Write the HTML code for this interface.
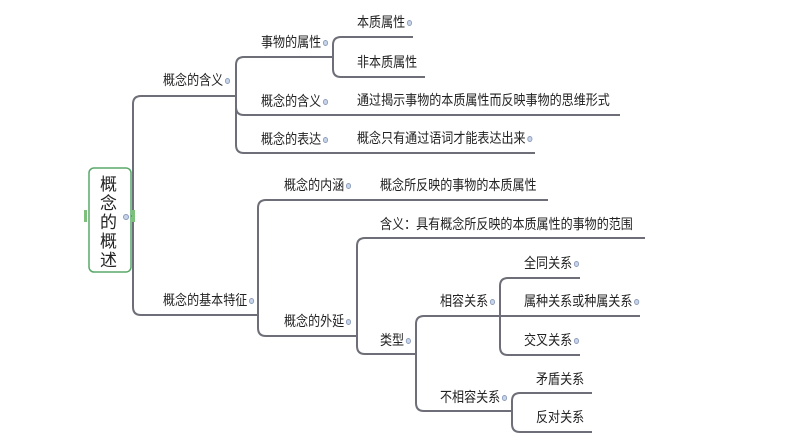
<!DOCTYPE html>
<html><head><meta charset="utf-8"><style>
html,body{margin:0;padding:0;background:#fff;}
#c{position:relative;width:794px;height:447px;overflow:hidden;font-family:"Liberation Sans","Noto Sans CJK SC",sans-serif;}
.t{position:absolute;font-size:14px;color:#222;white-space:nowrap;line-height:16px;transform:scaleX(0.86);transform-origin:0 0;}
.d{display:inline-block;width:4px;height:4px;border-radius:50%;border:1px solid #8a9ab8;background:#c8d4ea;margin-left:2px;vertical-align:middle;}
</style></head><body><div id="c">
<svg width="794" height="447" style="position:absolute;left:0;top:0" fill="none" stroke="#6e6e78" stroke-width="2">
<path d="M131 216 L133 216"/>
<path d="M133 216 L133 104 Q133 96 141 96 L235 96"/>
<path d="M133 216 L133 307 Q133 315 141 315 L258 315"/>
<path d="M235 96 L236 96 L236 65 Q236 57 244 57 L333 57"/>
<path d="M236 96 L236 107 Q236 115 244 115 L620 115"/>
<path d="M236 96 L236 145 Q236 153 244 153 L535 153"/>
<path d="M333 57 L333 45 Q333 37 341 37 L413 37"/>
<path d="M333 57 L333 69 Q333 77 341 77 L425 77"/>
<path d="M258 315 L258 208 Q258 200 266 200 L548 200"/>
<path d="M258 315 L258 328 Q258 336 266 336 L357 336"/>
<path d="M357 336 L357 246 Q357 238 365 238 L645 238"/>
<path d="M357 336 L357 346 Q357 354 365 354 L416 354"/>
<path d="M416 354 L416 324 Q416 316 424 316 L500 316"/>
<path d="M416 354 L416 403 Q416 411 424 411 L512 411"/>
<path d="M500 316 L500 286 Q500 278 508 278 L580 278"/>
<path d="M500 316 L640 316"/>
<path d="M500 316 L500 347 Q500 355 508 355 L580 355"/>
<path d="M512 411 L512 401 Q512 393 520 393 L592 393"/>
<path d="M512 411 L512 424 Q512 432 520 432 L592 432"/>
<rect x="89" y="168" width="42" height="104" rx="5" fill="#fff" stroke="#5aa86a" stroke-width="1.5"/>
<rect x="84" y="210" width="3" height="12" fill="#7cc07c" stroke="none"/>
<rect x="132" y="210" width="3" height="12" fill="#7cc07c" stroke="none"/>
</svg>
<div style="position:absolute;left:100px;top:175px;width:18px;font-size:17px;line-height:19px;color:#222;font-family:'Liberation Sans','Noto Sans CJK SC',sans-serif">概念的概述</div>
<span class="d" style="position:absolute;left:123px;top:214px;margin:0"></span>
<div class="t" style="left:163px;top:72px">概念的含义<span class="d"></span></div>
<div class="t" style="left:163px;top:292px">概念的基本特征<span class="d"></span></div>
<div class="t" style="left:261px;top:34px">事物的属性<span class="d"></span></div>
<div class="t" style="left:261px;top:93px">概念的含义<span class="d"></span></div>
<div class="t" style="left:261px;top:131px">概念的表达<span class="d"></span></div>
<div class="t" style="left:357px;top:14px">本质属性<span class="d"></span></div>
<div class="t" style="left:357px;top:54px">非本质属性</div>
<div class="t" style="left:357px;top:92px">通过揭示事物的本质属性而反映事物的思维形式</div>
<div class="t" style="left:357px;top:130px">概念只有通过语词才能表达出来<span class="d"></span></div>
<div class="t" style="left:284px;top:177px">概念的内涵<span class="d"></span></div>
<div class="t" style="left:380px;top:177px">概念所反映的事物的本质属性</div>
<div class="t" style="left:284px;top:313px">概念的外延<span class="d"></span></div>
<div class="t" style="left:380px;top:216px">含义：具有概念所反映的本质属性的事物的范围</div>
<div class="t" style="left:380px;top:332px">类型<span class="d"></span></div>
<div class="t" style="left:440px;top:293px">相容关系<span class="d"></span></div>
<div class="t" style="left:440px;top:389px">不相容关系<span class="d"></span></div>
<div class="t" style="left:524px;top:255px">全同关系<span class="d"></span></div>
<div class="t" style="left:524px;top:293px">属种关系或种属关系<span class="d"></span></div>
<div class="t" style="left:524px;top:332px">交叉关系<span class="d"></span></div>
<div class="t" style="left:536px;top:371px">矛盾关系</div>
<div class="t" style="left:536px;top:409px">反对关系</div>
</div></body></html>
